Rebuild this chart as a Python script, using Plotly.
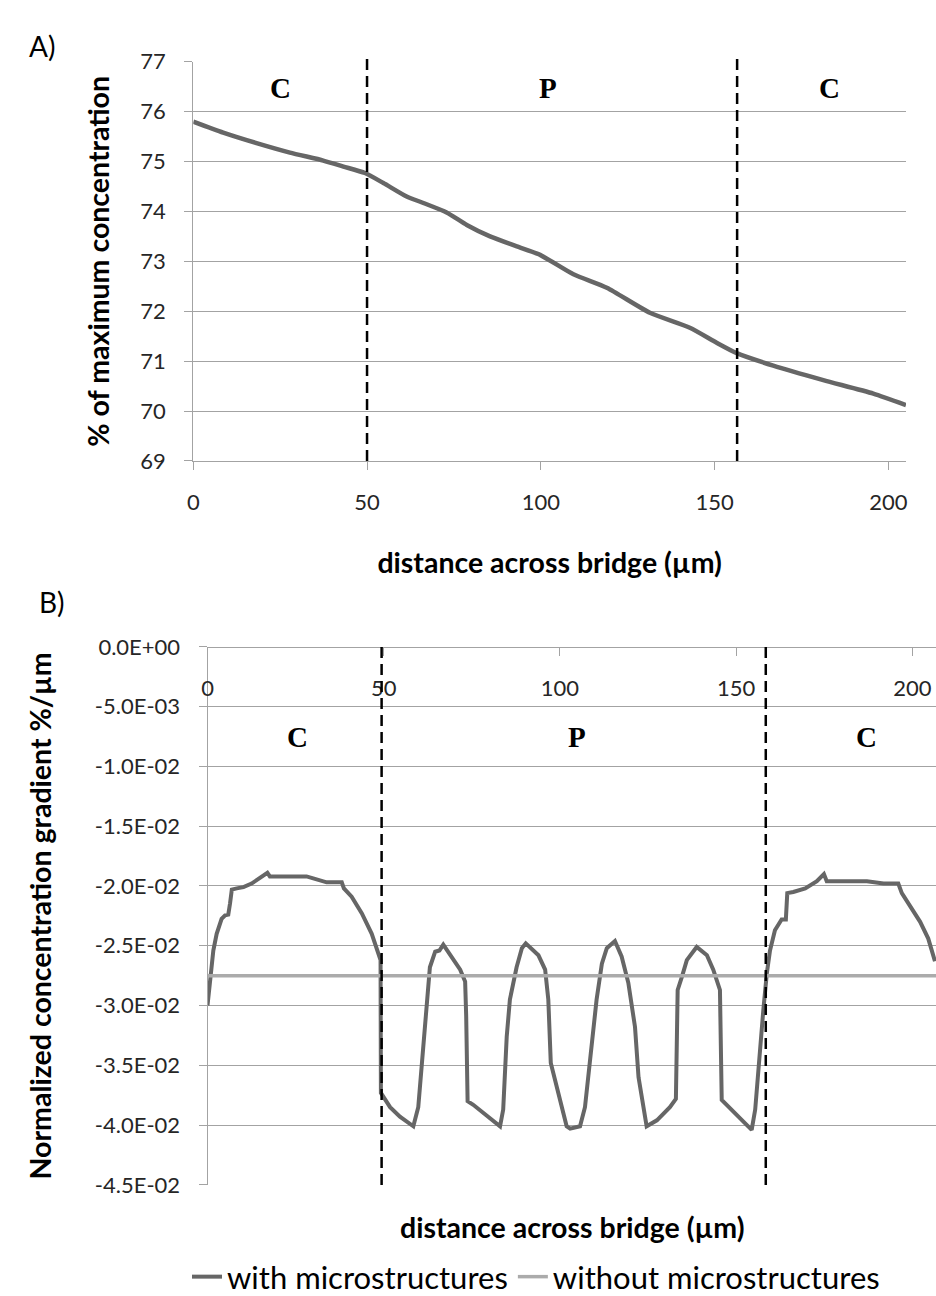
import plotly.graph_objects as go

# ---------------- Panel A data ----------------
a_dist = [0, 8.6, 18.2, 27.8, 37.4, 43.2, 49.4, 54.7, 61.4, 66.2, 72.9, 78.7, 85.4, 93.1,
          99.8, 109.4, 119.0, 131.4, 142.9, 150.6, 156.4, 166.9, 181.3, 195.7, 205.1]
a_conc = [75.80, 75.58, 75.37, 75.18, 75.02, 74.90, 74.77, 74.57, 74.30, 74.17, 73.98, 73.73,
          73.50, 73.30, 73.13, 72.74, 72.47, 71.97, 71.67, 71.37, 71.16, 70.91, 70.62, 70.35, 70.12]
a_dividers = [50, 156.5]
a_region_labels = ["C", "P", "C"]
a_region_x = [25, 102, 183]

# ---------------- Panel B data ----------------
b_dist = [0, 0.9, 1.65, 2.6, 4.0, 5.0, 5.9, 6.4, 6.9, 8.3, 10.2, 12.5, 14.9, 17.0, 17.7, 20.6,
          28.1, 30.0, 33.8, 38.1, 38.7, 40.9, 43.8, 46.6, 48.5, 49.1, 49.2, 50.4, 51.8, 54.6,
          58.4, 59.8, 60.8, 62.2, 63.1, 64.6, 65.8, 66.9, 68.3, 69.8, 71.7, 73.1, 73.4, 73.8,
          75.4, 83.0, 83.9, 84.9, 85.8, 87.7, 89.2, 90.3, 92.0, 93.9, 95.8, 96.7, 97.4, 99.6,
          101.9, 102.9, 105.7, 107.1, 109.0, 110.4, 111.9, 113.3, 115.6, 117.5, 119.4, 121.3,
          122.3, 124.6, 127.5, 131.2, 132.9, 133.4, 134.6, 136.0, 138.8, 141.7, 143.5, 145.4,
          145.9, 148.3, 152.0, 154.4, 155.4, 156.3, 157.7, 158.7, 159.6, 161.0, 162.9, 164.1,
          164.5, 166.2, 169.6, 172.9, 174.9, 175.7, 180.4, 187.1, 191.8, 196.0, 197.0, 199.3,
          202.2, 204.5, 206.4]
b_with = [-0.0300, -0.0274, -0.0254, -0.0240, -0.02275, -0.02245, -0.0224, -0.02145, -0.0203,
          -0.0202, -0.0201, -0.0198, -0.0193, -0.0189, -0.0192, -0.0192, -0.0192, -0.01936,
          -0.0197, -0.0197, -0.0202, -0.0209, -0.0223, -0.0240, -0.0255, -0.0262, -0.0373,
          -0.0378, -0.0385, -0.0393, -0.0401, -0.0385, -0.0351, -0.0295, -0.0268, -0.0255,
          -0.0254, -0.0249, -0.0255, -0.0261, -0.0270, -0.0280, -0.0309, -0.0380, -0.0383,
          -0.0401, -0.0387, -0.0326, -0.0295, -0.0268, -0.0252, -0.0248, -0.0253, -0.0258,
          -0.0270, -0.0295, -0.0348, -0.0373, -0.0401, -0.0403, -0.0401, -0.0385, -0.0337,
          -0.0295, -0.0265, -0.0252, -0.0246, -0.0259, -0.0281, -0.0318, -0.0360, -0.0401,
          -0.0396, -0.0385, -0.0378, -0.0287, -0.0276, -0.0262, -0.0251, -0.0258, -0.0270,
          -0.0287, -0.0379, -0.0386, -0.0396, -0.0404, -0.0387, -0.0351, -0.0304, -0.0273,
          -0.0254, -0.0237, -0.0228, -0.0228, -0.0206, -0.0205, -0.0202, -0.0196, -0.0190,
          -0.0196, -0.0196, -0.0196, -0.0198, -0.0198, -0.0206, -0.0216, -0.0230, -0.0244,
          -0.0263]
b_without_x = [0, 206.7]
b_without = [-0.0275, -0.0275]
b_dividers = [49.4, 158.4]
b_region_labels = ["C", "P", "C"]
b_region_x = [25.4, 104.8, 187]
b_ytick_vals = [0, -0.005, -0.01, -0.015, -0.02, -0.025, -0.03, -0.035, -0.04, -0.045]
b_ytick_text = ["0.0E+00", "-5.0E-03", "-1.0E-02", "-1.5E-02", "-2.0E-02", "-2.5E-02",
                "-3.0E-02", "-3.5E-02", "-4.0E-02", "-4.5E-02"]

W, H = 936, 1296
GRID = "#a3a3a3"
TICKFONT = dict(family="Lato", size=22, color="#262626")
TITLEFONT = dict(family="Lato", size=28.5, color="#000000")

fig = go.Figure()
fig.add_trace(go.Scatter(x=a_dist, y=a_conc, mode="lines", xaxis="x", yaxis="y",
                         line=dict(color="#666666", width=4.5, shape="spline", smoothing=0.6),
                         showlegend=False, hoverinfo="skip"))
fig.add_trace(go.Scatter(x=b_dist, y=b_with, mode="lines", xaxis="x2", yaxis="y2",
                         name="with microstructures",
                         line=dict(color="#666666", width=4)))
fig.add_trace(go.Scatter(x=b_without_x, y=b_without, mode="lines", xaxis="x2", yaxis="y2",
                         name="without microstructures",
                         line=dict(color="#ababab", width=3.5)))

ax_common = dict(showgrid=False, zeroline=False, showline=True, linecolor=GRID, linewidth=1,
                 ticks="outside", ticklen=8, tickcolor=GRID, tickfont=TICKFONT, automargin=False)

fig.update_layout(
    width=W, height=H, margin=dict(l=0, r=0, t=0, b=0, autoexpand=False),
    paper_bgcolor="white", plot_bgcolor="white",
    xaxis=dict(domain=[193.3 / W, 906 / W], anchor="y", range=[0, 205.1],
               tick0=0, dtick=50, ticklabelstandoff=14,
               title=dict(text="<b>distance across bridge (µm)</b>", font=TITLEFONT, standoff=38),
               **ax_common),
    yaxis=dict(domain=[1 - 461 / H, 1 - 61.7 / H], anchor="x", range=[68.999, 77.001],
               tick0=69, dtick=1, ticklabelstandoff=14,
               title=dict(text="<b>% of maximum concentration</b>", font=TITLEFONT, standoff=22),
               **{**ax_common, "showgrid": True, "gridcolor": GRID, "gridwidth": 1}),
    xaxis2=dict(domain=[207.5 / W, 1.0], anchor="free", position=1 - 646.7 / H, side="bottom",
                range=[0, 206.7], tick0=0, dtick=50, ticklabelstandoff=14,
                **ax_common),
    yaxis2=dict(domain=[1 - 1185 / H, 1 - 646.7 / H], anchor="x2", range=[-0.04501, 0.00001],
                tickmode="array", tickvals=b_ytick_vals, ticktext=b_ytick_text,
                ticklabelstandoff=14,
                title=dict(text="<b>Normalized concentration gradient %/µm</b>", font=TITLEFONT,
                           standoff=34),
                **{**ax_common, "showgrid": True, "gridcolor": GRID, "gridwidth": 1}),
    legend=dict(orientation="h", x=536 / W, xanchor="center", y=1 - 1277 / H, yanchor="middle",
                font=dict(family="Lato", size=31, color="#000000"), bgcolor="rgba(0,0,0,0)",
                itemwidth=30, tracegroupgap=0),
)

DASH = dict(color="black", width=2.5, dash="11px,6px")
for xv in a_dividers:
    fig.add_shape(type="line", xref="x", yref="y domain", x0=xv, x1=xv, y0=0, y1=1.01, line=DASH)
for xv in b_dividers:
    fig.add_shape(type="line", xref="x2", yref="y2 domain", x0=xv, x1=xv, y0=0, y1=1, line=DASH)

REGFONT = dict(family="Liberation Serif", size=29, color="black")
for lab, xv in zip(a_region_labels, a_region_x):
    fig.add_annotation(x=xv, y=76.47, xref="x", yref="y", text=f"<b>{lab}</b>",
                       showarrow=False, font=REGFONT)
for lab, xv in zip(b_region_labels, b_region_x):
    fig.add_annotation(x=xv, y=-0.0075, xref="x2", yref="y2", text=f"<b>{lab}</b>",
                       showarrow=False, font=REGFONT)

fig.add_annotation(x=27 / W, y=1 - 27 / H, xref="paper", yref="paper", text="A)",
                   showarrow=False, font=dict(family="Lato", size=28, color="black"))
fig.add_annotation(x=37 / W, y=1 - 602 / H, xref="paper", yref="paper", text="B)",
                   showarrow=False, font=dict(family="Lato", size=28, color="black"))
fig.add_annotation(x=571.7 / W, y=1 - 1246 / H, xref="paper", yref="paper",
                   text="<b>distance across bridge (µm)</b>", showarrow=False, font=TITLEFONT)

fig.write_html("out.html",
               config={"displayModeBar": False},
               post_script="document.body.style.margin='0';"
                           "document.body.style.overflow='hidden';")
